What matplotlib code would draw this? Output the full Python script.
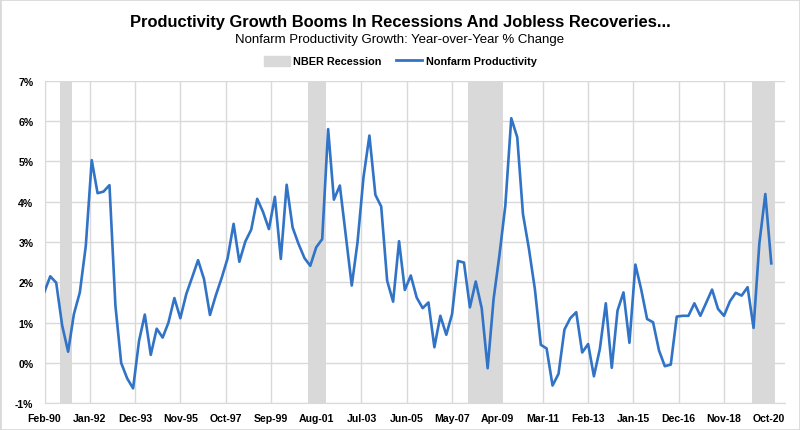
import numpy as np
import pandas as pd
import matplotlib
matplotlib.use("Agg")
import matplotlib.pyplot as plt
from matplotlib.patches import Patch, Rectangle
from matplotlib.lines import Line2D

plt.rcParams['font.family'] = ['Liberation Sans', 'DejaVu Sans']

# quarterly, Q1 1990 .. Q4 2020 (plotted at mid-quarter month)
quarters = pd.date_range('1990-02-01', periods=124, freq='3MS')
productivity = [
    1.77, 2.15, 1.99, 0.93, 0.28, 1.21, 1.75, 2.90, 5.03, 4.21,
    4.25, 4.41, 1.42, 0.00, -0.38, -0.63, 0.55, 1.20, 0.20, 0.85,
    0.63, 1.00, 1.61, 1.11, 1.71, 2.12, 2.55, 2.08, 1.19, 1.67,
    2.11, 2.60, 3.45, 2.51, 3.01, 3.31, 4.07, 3.75, 3.32, 4.12,
    2.58, 4.42, 3.36, 2.95, 2.60, 2.41, 2.87, 3.07, 5.80, 4.05,
    4.40, 3.16, 1.92, 2.99, 4.60, 5.64, 4.17, 3.88, 2.04, 1.52,
    3.02, 1.81, 2.17, 1.62, 1.36, 1.50, 0.39, 1.17, 0.70, 1.21,
    2.53, 2.49, 1.38, 2.02, 1.36, -0.13, 1.59, 2.66, 3.90, 6.07,
    5.60, 3.69, 2.83, 1.83, 0.45, 0.36, -0.56, -0.27, 0.83, 1.11,
    1.26, 0.26, 0.47, -0.33, 0.35, 1.48, -0.12, 1.30, 1.75, 0.50,
    2.44, 1.83, 1.09, 1.01, 0.31, -0.08, -0.04, 1.15, 1.17, 1.17,
    1.48, 1.17, 1.50, 1.82, 1.34, 1.17, 1.53, 1.74, 1.67, 1.88,
    0.87, 2.97, 4.19, 2.47,
]

rec_start = ['1990-10-01', '2001-04-01', '2008-01-01', '2020-01-01']
rec_end = ['1991-04-01', '2002-01-01', '2009-07-01', '2021-01-01']

tick_dates = pd.date_range('1990-02-01', '2020-10-01', freq='23MS')
tick_labels = [d.strftime('%b-%y') for d in tick_dates]

blue = '#3173c6'
grey = '#d9d9d9'

fig = plt.figure(figsize=(8, 4.31), dpi=100)
ax = fig.add_axes([44.5/800, 1-404.3/431, (785-44.5)/800, (404.3-81.7)/431])

for s, e in zip(rec_start, rec_end):
    ax.axvspan(pd.Timestamp(s), pd.Timestamp(e), color=grey, lw=0, zorder=1)

ax.plot(quarters, productivity, color=blue, lw=1.9, zorder=3)

ax.set_ylim(-1, 7)
ax.set_yticks(range(-1, 8))
ax.set_yticklabels([f'{v}%' for v in range(-1, 8)], fontsize=7.6, fontweight='bold')
ax.set_xlim(pd.Timestamp('1990-02-01'), pd.Timestamp('2021-06-01'))
ax.set_xticks(tick_dates)
ax.set_xticklabels(tick_labels, fontsize=7.6, fontweight='bold')
ax.tick_params(length=0)
ax.tick_params(axis='x', pad=7)
ax.tick_params(axis='y', pad=8)
ax.grid(True, color=grey, lw=1, zorder=0)
ax.set_axisbelow(True)
for side in ['top', 'right']:
    ax.spines[side].set_visible(False)
for side in ['left', 'bottom']:
    ax.spines[side].set_color(grey)

fig.text(0.5, 1-23/431, 'Productivity Growth Booms In Recessions And Jobless Recoveries...',
         ha='center', va='center', fontsize=11.9, fontweight='bold')
fig.text(0.5, 1-40.5/431, 'Nonfarm Productivity Growth: Year-over-Year % Change',
         ha='center', va='center', fontsize=9.5)

handles = [Patch(color=grey, label='NBER Recession'),
           Line2D([], [], color=blue, lw=2, label='Nonfarm Productivity')]
fig.legend(handles=handles, loc='center', bbox_to_anchor=(0.5, 1-62/431), ncol=2,
           frameon=False, prop={'size': 7.8, 'weight': 'bold'}, handlelength=2.4,
           handleheight=1.1, columnspacing=1.3, handletextpad=0.35)

fig.add_artist(Rectangle((0, 0), 1, 1, transform=fig.transFigure, fill=False,
                         edgecolor='#d9d9d9', lw=2))

fig.savefig('out.png', dpi=100)
